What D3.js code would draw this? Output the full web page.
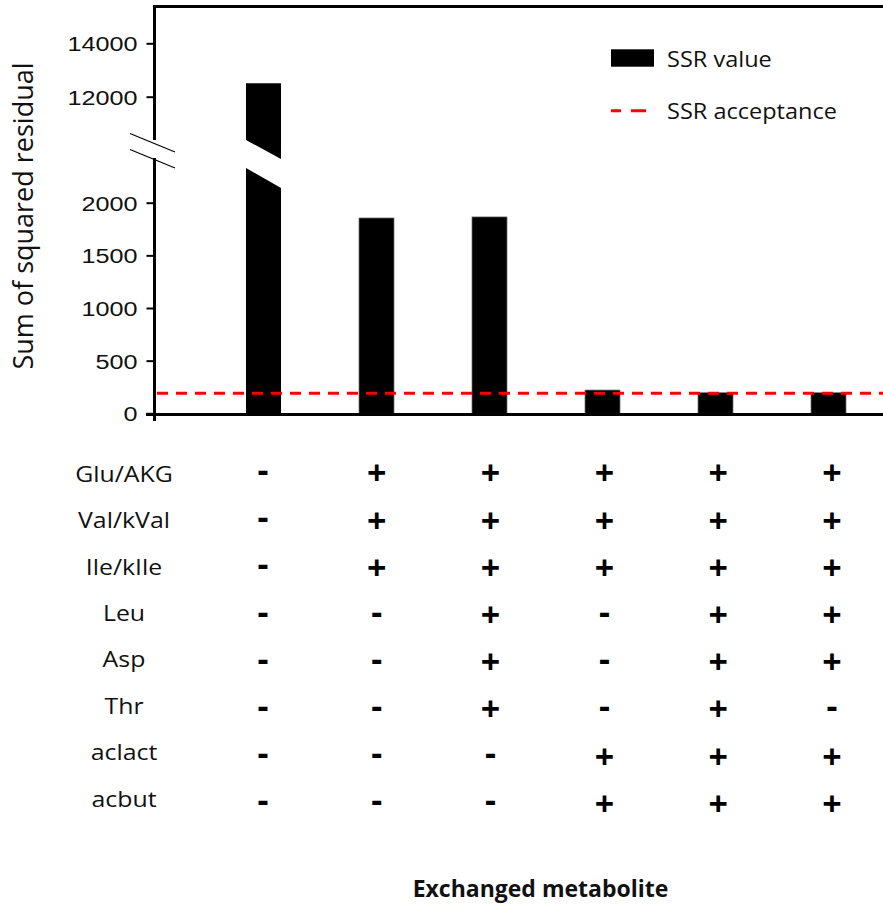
<!DOCTYPE html>
<html>
<head>
<meta charset="utf-8">
<script src="https://cdn.jsdelivr.net/npm/d3@7"></script>
<style>
  html, body { margin: 0; padding: 0; background: #fff; }
  svg { display: block; }
</style>
</head>
<body>
<svg id="chart" width="883" height="907"></svg>
<script>
// ---- data ----
const models = ["m1", "m2", "m3", "m4", "m5", "m6"];
const ssrValues = [12500, 1855, 1865, 221, 196, 196];
const ssrAcceptance = 190;
const lowerTicks = [0, 500, 1000, 1500, 2000];
const upperTicks = [12000, 14000];
const metabolites = ["Glu/AKG", "Val/kVal", "Ile/kIle", "Leu", "Asp", "Thr", "aclact", "acbut"];
// one row per metabolite, one entry per model: "+" exchanged, "-" not exchanged
const gluAkg  = ["-", "+", "+", "+", "+", "+"];
const valKval = ["-", "+", "+", "+", "+", "+"];
const ileKile = ["-", "+", "+", "+", "+", "+"];
const leu     = ["-", "-", "+", "-", "+", "+"];
const asp     = ["-", "-", "+", "-", "+", "+"];
const thr     = ["-", "-", "+", "-", "+", "-"];
const aclact  = ["-", "-", "-", "+", "+", "+"];
const acbut   = ["-", "-", "-", "+", "+", "+"];
const exchangeRows = [gluAkg, valKval, ileKile, leu, asp, thr, aclact, acbut];

// ---- layout ----
const svg = d3.select("#chart");
const calibriLike = "'Open Sans', 'Noto Sans', sans-serif";
const axisFont = "'Liberation Sans', Arial, sans-serif";

const axisX = 154.5;
const baseY = 414.5;
const topY = 6.5;
const breakTop = 140;     // lower end of the upper axis segment
const breakBottom = 158;  // upper end of the lower axis segment

const x = d3.scaleBand().domain(models).range([207, 885]).paddingInner(0.69).paddingOuter(0.345);
const yLow = d3.scaleLinear().domain([0, 2000]).range([413.3, 202.7]);
const yHigh = d3.scaleLinear().domain([12000, 14000]).range([96.7, 43.3]);

// horizontally widened text, like the source typesetting
function widen(sel, k) {
  sel.each(function () {
    const t = d3.select(this);
    const tx = +t.attr("x") || 0, ty = +t.attr("y") || 0;
    t.attr("x", 0).attr("y", 0)
     .attr("transform", (t.attr("transform") || "") + ` translate(${tx},${ty}) scale(${k},1)`);
  });
}

// ---- bars ----
const barG = svg.append("g");
ssrValues.forEach((v, i) => {
  const x0 = x(models[i]), x1 = x0 + x.bandwidth();
  if (v > 2000) {
    // broken bar: upper part on the upper scale, lower part on the lower scale
    const yt = yHigh(v), y0 = yLow(0);
    barG.append("path")
      .attr("d", `M${x0},${yt}L${x1},${yt}L${x1},159L${x0},140Z`)
      .attr("fill", "#000");
    barG.append("path")
      .attr("d", `M${x0},168L${x1},188L${x1},${y0}L${x0},${y0}Z`)
      .attr("fill", "#000");
  } else {
    barG.append("rect")
      .attr("x", x0).attr("y", yLow(v))
      .attr("width", x.bandwidth()).attr("height", yLow(0) - yLow(v))
      .attr("fill", "#000").attr("stroke", "#777").attr("stroke-width", 0.7);
  }
});

// ---- acceptance threshold ----
svg.append("line")
  .attr("x1", 157).attr("x2", 883)
  .attr("y1", yLow(ssrAcceptance)).attr("y2", yLow(ssrAcceptance))
  .attr("stroke", "#ff0000").attr("stroke-width", 3)
  .attr("stroke-dasharray", "11,8");

// ---- frame and axes ----
const frame = svg.append("g").attr("stroke", "#000").attr("stroke-width", 3);
frame.append("line").attr("x1", axisX - 1.5).attr("x2", 883).attr("y1", topY).attr("y2", topY);
frame.append("line").attr("x1", axisX).attr("x2", axisX).attr("y1", topY - 1.5).attr("y2", breakTop);
frame.append("line").attr("x1", axisX).attr("x2", axisX).attr("y1", breakBottom).attr("y2", 421);
frame.append("line").attr("x1", 146).attr("x2", 883).attr("y1", baseY).attr("y2", baseY);

// axis break marks
const brk = svg.append("g").attr("stroke", "#000").attr("stroke-width", 1.2);
brk.append("line").attr("x1", 130).attr("y1", 133.5).attr("x2", 175).attr("y2", 152);
brk.append("line").attr("x1", 130).attr("y1", 149.5).attr("x2", 175).attr("y2", 168);

function yAxis(scale, ticks) {
  const g = svg.append("g")
    .attr("transform", `translate(${axisX},0)`)
    .call(d3.axisLeft(scale).tickValues(ticks).tickFormat(d3.format("d"))
      .tickSize(8).tickPadding(9).tickSizeOuter(0));
  g.select(".domain").remove();
  g.selectAll(".tick line").attr("stroke", "#000").attr("stroke-width", 2);
  g.selectAll(".tick text")
    .attr("font-family", axisFont).attr("font-size", 21).attr("fill", "#111")
    .attr("dy", "0.35em");
  widen(g.selectAll(".tick text"), 1.2);
  return g;
}
yAxis(yLow, lowerTicks);
yAxis(yHigh, upperTicks);

// y title
svg.append("text")
  .attr("transform", "translate(33,216) rotate(-90)")
  .attr("text-anchor", "middle")
  .attr("font-family", calibriLike).attr("font-size", 27)
  .attr("fill", "#111")
  .text("Sum of squared residual");

// ---- legend ----
svg.append("rect").attr("x", 611).attr("y", 49.3).attr("width", 43).attr("height", 17.4).attr("fill", "#000");
svg.append("line").attr("x1", 611).attr("x2", 646).attr("y1", 110.7).attr("y2", 110.7)
  .attr("stroke", "#ff0000").attr("stroke-width", 3).attr("stroke-dasharray", "10,10,15");
const legText = svg.append("g")
  .attr("font-family", calibriLike).attr("font-size", 21).attr("fill", "#111");
legText.append("text").attr("x", 667).attr("y", 66.7).text("SSR value");
legText.append("text").attr("x", 667).attr("y", 119.3).text("SSR acceptance");
widen(legText.selectAll("text"), 1.12);

// ---- exchange table ----
const labelY = d3.scalePoint().domain(metabolites).range([481.7, 806.7]);
const rowY = d3.scalePoint().domain(metabolites).range([472.3, 802.7]);
const colX = d3.scalePoint().domain(models).range([263, 832]);

const labels = svg.append("g")
  .attr("font-family", calibriLike).attr("font-size", 22).attr("fill", "#111")
  .attr("text-anchor", "middle");
labels.selectAll("text").data(metabolites).join("text")
  .attr("x", 124).attr("y", d => labelY(d)).text(d => d);
widen(labels.selectAll("text"), 1.13);

const signs = svg.append("g")
  .attr("font-family", calibriLike).attr("font-weight", 700).attr("font-size", 34)
  .attr("fill", "#000").attr("text-anchor", "middle");
exchangeRows.forEach((row, r) => {
  signs.selectAll(null).data(row).join("text")
    .attr("x", (d, c) => colX(models[c]))
    .attr("y", rowY(metabolites[r]))
    .attr("dominant-baseline", "central")
    .attr("dy", d => d === "-" ? "-0.1em" : "0")
    .text(d => d);
});

// x title
svg.append("text")
  .attr("x", 540.5).attr("y", 897.3)
  .attr("text-anchor", "middle")
  .attr("font-family", calibriLike).attr("font-weight", 700).attr("font-size", 23)
  .attr("fill", "#111")
  .text("Exchanged metabolite");
</script>
</body>
</html>
